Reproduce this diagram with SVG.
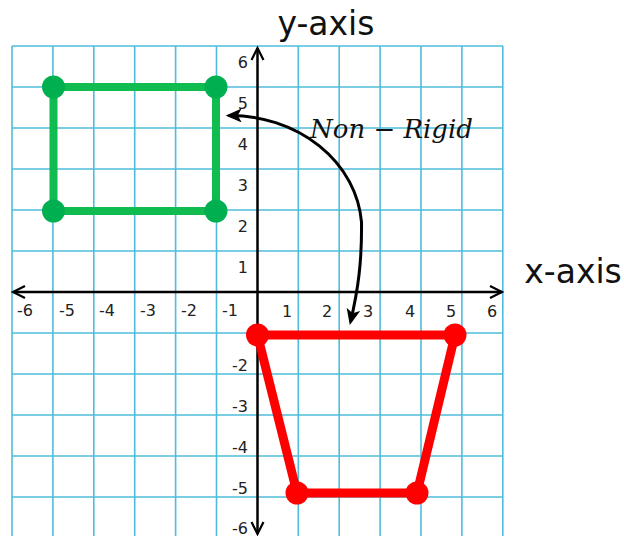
<svg xmlns="http://www.w3.org/2000/svg" width="624" height="536" viewBox="0 0 624 536">
<style>
.grid line{stroke:#4fbcdb;stroke-width:1.6}
.axis{stroke:#000;stroke-width:2.5;fill:none}
.chev{stroke:#000;stroke-width:2.2;fill:none;stroke-linejoin:miter}
.num{font-family:"DejaVu Sans",sans-serif;font-size:16px;fill:#222}
.title{font-family:"DejaVu Sans",sans-serif;font-size:33px;fill:#111}
.gline{stroke:#10bb50;stroke-width:8;fill:none;stroke-linejoin:round}
.gdot{fill:#00b050}
.rline{stroke:#ff0000;stroke-width:9;fill:none;stroke-linejoin:round}
.rdot{fill:#ff0000}
</style>
<defs>
<marker id="ah" viewBox="0 0 16 14" refX="13" refY="7" markerWidth="16" markerHeight="14" markerUnits="userSpaceOnUse" orient="auto-start-reverse">
<path d="M0,0 L16,7 L0,14 L4,7 Z" fill="#000"/>
</marker>
</defs>
<rect width="624" height="536" fill="#fff"/>
<g id="grid" class="grid">
<line x1="12" y1="46" x2="12" y2="536"/>
<line x1="52.9" y1="46" x2="52.9" y2="536"/>
<line x1="93.8" y1="46" x2="93.8" y2="536"/>
<line x1="134.7" y1="46" x2="134.7" y2="536"/>
<line x1="175.6" y1="46" x2="175.6" y2="536"/>
<line x1="216.5" y1="46" x2="216.5" y2="536"/>
<line x1="298.3" y1="46" x2="298.3" y2="536"/>
<line x1="339.2" y1="46" x2="339.2" y2="536"/>
<line x1="380.1" y1="46" x2="380.1" y2="536"/>
<line x1="421" y1="46" x2="421" y2="536"/>
<line x1="461.9" y1="46" x2="461.9" y2="536"/>
<line x1="502.8" y1="46" x2="502.8" y2="536"/>
<line x1="12" y1="46" x2="503" y2="46"/>
<line x1="12" y1="87" x2="503" y2="87"/>
<line x1="12" y1="128" x2="503" y2="128"/>
<line x1="12" y1="169" x2="503" y2="169"/>
<line x1="12" y1="210" x2="503" y2="210"/>
<line x1="12" y1="251" x2="503" y2="251"/>
<line x1="12" y1="333" x2="503" y2="333"/>
<line x1="12" y1="374" x2="503" y2="374"/>
<line x1="12" y1="415" x2="503" y2="415"/>
<line x1="12" y1="456" x2="503" y2="456"/>
<line x1="12" y1="497" x2="503" y2="497"/>
</g>
<g id="axes">
<line class="axis" x1="13" y1="292" x2="502" y2="292"/>
<line class="axis" x1="257.5" y1="48" x2="257.5" y2="534"/>
<path class="chev" d="M25,286 L13,292 L25,298"/>
<path class="chev" d="M490,286 L502,292 L490,298"/>
<path class="chev" d="M251.5,60 L257.5,48 L263.5,60"/>
<path class="chev" d="M251.5,522 L257.5,534 L263.5,522"/>
<text class="title" x="326" y="35" text-anchor="middle">y-axis</text>
<text class="title" x="573" y="283" text-anchor="middle">x-axis</text>
</g>
<g id="labels" class="num">
<g text-anchor="middle">
<text x="25" y="316">-6</text>
<text x="67" y="316">-5</text>
<text x="107" y="316">-4</text>
<text x="148" y="316">-3</text>
<text x="189" y="316">-2</text>
<text x="230" y="316">-1</text>
<text x="287" y="316.5">1</text>
<text x="327" y="316.5">2</text>
<text x="368" y="316.5">3</text>
<text x="410" y="316.5">4</text>
<text x="451" y="316.5">5</text>
<text x="492" y="316.5">6</text>
</g>
<g text-anchor="end">
<text x="248" y="67.5">6</text>
<text x="248" y="108.5">5</text>
<text x="248" y="149.5">4</text>
<text x="248" y="190.5">3</text>
<text x="248" y="231.5">2</text>
<text x="248" y="272.5">1</text>
<text x="248" y="370.5">-2</text>
<text x="248" y="411.5">-3</text>
<text x="248" y="452.5">-4</text>
<text x="248" y="493.5">-5</text>
<text x="248" y="533.5">-6</text>
</g>
</g>
<g id="green-rectangle">
<path class="gline" d="M53.5,87 L216,87 L216,211 L53.5,211 Z"/>
<circle class="gdot" cx="53.5" cy="87" r="11.5"/>
<circle class="gdot" cx="216" cy="87" r="11.5"/>
<circle class="gdot" cx="216" cy="211" r="11.5"/>
<circle class="gdot" cx="53.5" cy="211" r="11.5"/>
</g>
<g id="red-trapezoid">
<path class="rline" d="M257.5,335 L455,335 L417,493 L297,493 Z"/>
<circle class="rdot" cx="257.5" cy="335" r="11.5"/>
<circle class="rdot" cx="455" cy="335" r="11.5"/>
<circle class="rdot" cx="417" cy="493" r="11.5"/>
<circle class="rdot" cx="297" cy="493" r="11.5"/>
</g>
<g id="connectors">
<path d="M228.7,115.5 A132,115 0 0 1 361.5,222 C362,262 358,290 350.5,322" fill="none" stroke="#000" stroke-width="3" marker-start="url(#ah)" marker-end="url(#ah)"/>
<text x="310" y="138" font-family="DejaVu Serif, serif" font-style="italic" font-size="26" fill="#111">Non − Rigid</text>
</g>
</svg>
